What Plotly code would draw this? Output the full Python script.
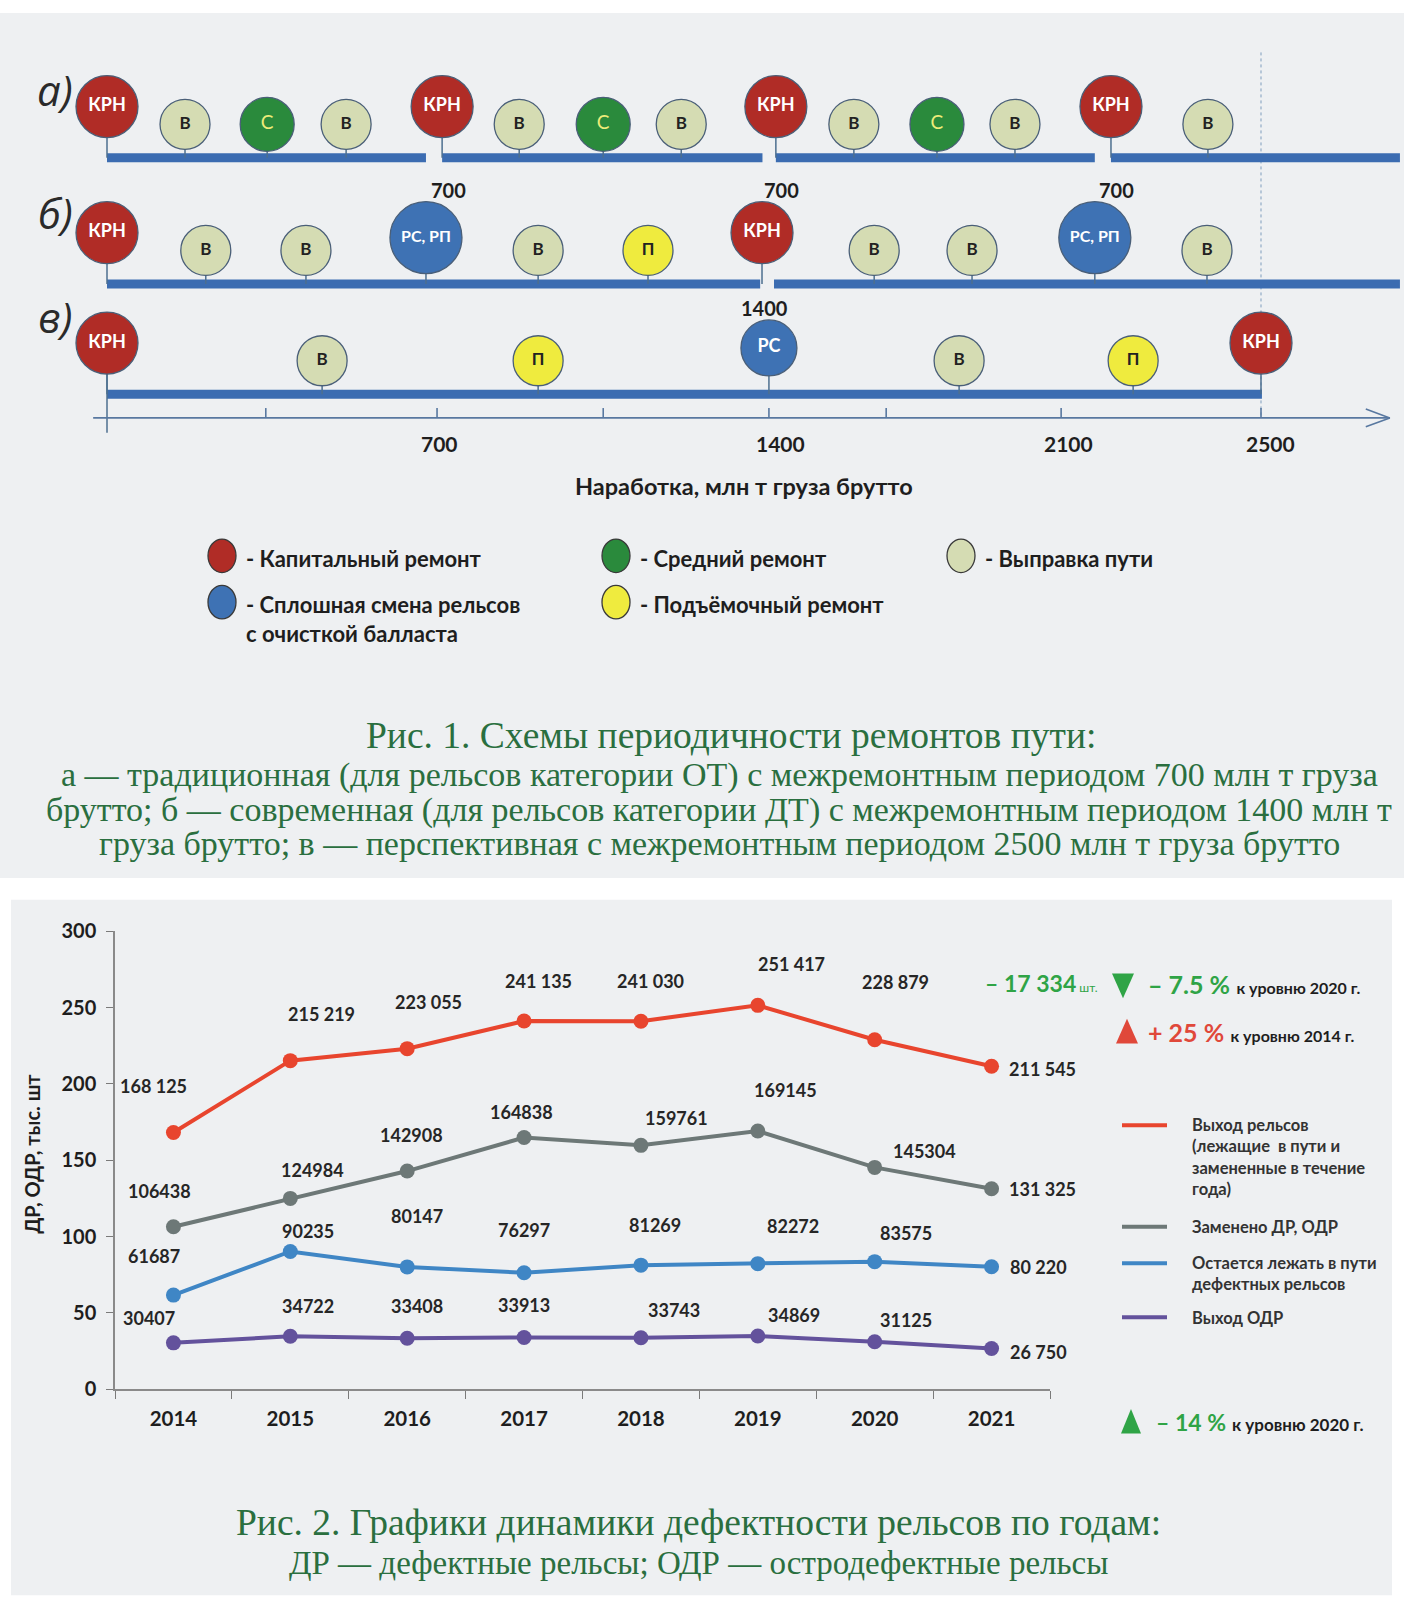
import plotly.graph_objects as go

W, H = 1418, 1618

# ===================== Рис. 1 — схемы периодичности ремонтов =====================
SCHEME_TICK_VALUES = [715, 1434, 2067, 2500]
SCHEME_TICK_LABELS = ["700", "1400", "2100", "2500"]
SCHEME_MINOR_TICK_VALUES = [344, 1075, 1688]
SCHEME_AXIS_END = 2779
SCHEME_AXIS_TITLE = "Наработка, млн т груза брутто"

ROW_NAMES = ["а)", "б)", "в)"]

ROW_A_POSITIONS = [0, 169, 347, 518, 726, 893, 1075, 1244, 1449, 1618, 1798, 1967, 2175, 2385]
ROW_A_REPAIRS = ["КРН", "В", "С", "В", "КРН", "В", "С", "В", "КРН", "В", "С", "В", "КРН", "В"]
ROW_A_SEG_START = [0, 726, 1449, 2175]
ROW_A_SEG_END = [691, 1420, 2140, 2801]
ROW_A_PERIOD_AT = [726, 1449, 2175]
ROW_A_PERIOD_LABELS = ["700", "700", "700"]

ROW_B_POSITIONS = [0, 214, 431, 691, 934, 1172, 1419, 1662, 1874, 2140, 2383]
ROW_B_REPAIRS = ["КРН", "В", "В", "РС, РП", "В", "П", "КРН", "В", "В", "РС, РП", "В"]
ROW_B_SEG_START = [0, 1445]
ROW_B_SEG_END = [1415, 2801]
ROW_B_PERIOD_AT = [1419]
ROW_B_PERIOD_LABELS = ["1400"]

ROW_C_POSITIONS = [0, 466, 934, 1434, 1846, 2223, 2500]
ROW_C_REPAIRS = ["КРН", "В", "П", "РС", "В", "П", "КРН"]
ROW_C_SEG_START = [0]
ROW_C_SEG_END = [2502]

LEGEND1_LABELS = ["- Капитальный ремонт", "- Средний ремонт", "- Выправка пути",
                  "- Сплошная смена рельсов<br>с очисткой балласта", "- Подъёмочный ремонт"]
LEGEND1_KEYS = ["КРН", "С", "В", "РС", "П"]

CAPTION1_TITLE = "Рис. 1. Схемы периодичности ремонтов пути:"
CAPTION1_LINES = [
    "а — традиционная (для рельсов категории ОТ) с межремонтным периодом 700 млн т груза",
    "брутто; б — современная (для рельсов категории ДТ) с межремонтным периодом 1400 млн т",
    "груза брутто; в — перспективная с межремонтным периодом 2500 млн т груза брутто",
]

# ===================== Рис. 2 — динамика дефектности =====================
YEARS = ["2014", "2015", "2016", "2017", "2018", "2019", "2020", "2021"]
RAIL_OUTPUT = [168.125, 215.219, 223.055, 241.135, 241.030, 251.417, 228.879, 211.545]
REPLACED = [106.438, 124.984, 142.908, 164.838, 159.761, 169.145, 145.304, 131.325]
REMAINING = [61.687, 90.235, 80.147, 76.297, 81.269, 82.272, 83.575, 80.220]
ODR_OUTPUT = [30.407, 34.722, 33.408, 33.913, 33.743, 34.869, 31.125, 26.750]

RAIL_OUTPUT_LABELS = ["168 125", "215 219", "223 055", "241 135", "241 030", "251 417", "228 879", "211 545"]
REPLACED_LABELS = ["106438", "124984", "142908", "164838", "159761", "169145", "145304", "131 325"]
REMAINING_LABELS = ["61687", "90235", "80147", "76297", "81269", "82272", "83575", "80 220"]
ODR_OUTPUT_LABELS = ["30407", "34722", "33408", "33913", "33743", "34869", "31125", "26 750"]

SERIES_NAMES = ["Выход рельсов<br>(лежащие  в пути и<br>замененные в течение<br>года)",
                "Заменено ДР, ОДР",
                "Остается лежать в пути<br>дефектных рельсов",
                "Выход ОДР"]
Y_TITLE = "ДР, ОДР, тыс. шт"
Y_TICKS = [0, 50, 100, 150, 200, 250, 300]

CAPTION2_TITLE = "Рис. 2. Графики динамики дефектности рельсов по годам:"
CAPTION2_LINE = "ДР — дефектные рельсы; ОДР — остродефектные рельсы"

# ===================== styles =====================
SANS = "Lato, 'Open Sans', sans-serif"
SERIF = "'Liberation Serif', 'DejaVu Serif', serif"
CAP_COLOR = "#2a6f3f"

FILL = {"КРН": "#b02c26", "В": "#d5dcb3", "С": "#2a8a3c", "РС, РП": "#3e72b4",
        "РС": "#3e72b4", "П": "#efeb3e"}
TXT = {"КРН": "white", "В": "#222222", "С": "#eeec7a", "РС, РП": "white", "РС": "white", "П": "#222222"}
SIZE = {"КРН": 62, "В": 50, "С": 54, "РС, РП": 72, "РС": 56, "П": 50}
LIFT = {"КРН": 52, "В": 34, "С": 34, "РС, РП": 47, "РС": 47, "П": 34}
TSIZE = {"КРН": 18, "В": 17, "С": 19, "РС, РП": 16, "РС": 18, "П": 17}
BOLD = {"КРН": True, "В": True, "С": False, "РС, РП": True, "РС": True, "П": True}
ROW_BAR_Y = [147, 275, 387]
AXIS_Y = 411
BAR_COLOR = "#3b6cb1"
STEM_COLOR = "#4d6f8f"
TICK_LABEL_SHIFT = [2, 12, 7, 9]

SERIES_COLORS = ["#e8452e", "#6d7877", "#3f86c5", "#63529c"]
LABEL_DX = [[-0.17, 0.27, 0.18, 0.12, 0.08, 0.29, 0.18, 0.44],
            [-0.12, 0.19, 0.04, -0.02, 0.30, 0.24, 0.43, 0.44],
            [-0.17, 0.15, 0.08, 0.00, 0.12, 0.30, 0.27, 0.40],
            [-0.21, 0.15, 0.08, 0.00, 0.28, 0.31, 0.27, 0.40]]
LABEL_DY = [[30, 30, 30, 26, 26, 27, 37, -1.5],
            [23, 18.5, 23, 16.3, 17.4, 26.6, 10.6, 0],
            [25, 13, 32.6, 27.8, 25.7, 24.5, 18.5, 0],
            [16, 19.6, 21, 21, 17.6, 13.8, 13.8, -2]]

PX_PER_UNIT = (1261 - 107) / 2500.0
X2_L, X2_R = 115, 1050
Y2_TOP, Y2_BOT = 932, 1397
CAT_W = (X2_R - X2_L) / len(YEARS)
UNIT_H = (Y2_BOT - Y2_TOP) / 300.0


def PX(x):
    return x / W


def PY(y):
    return 1 - y / H


def note(x, y, text, size, color="#1e1e1e", family=SANS, xanchor="center", yanchor="middle", **kw):
    d = dict(x=PX(x), y=PY(y), xref="paper", yref="paper", text=text, showarrow=False,
             xanchor=xanchor, yanchor=yanchor, font=dict(family=family, size=size, color=color))
    d.update(kw)
    return d


fig = go.Figure()
shapes = []
ann = []

# panel backgrounds (scanned page)
shapes.append(dict(type="rect", xref="paper", yref="paper", x0=PX(0), x1=PX(1404), y0=PY(878), y1=PY(0),
                   fillcolor="#eef0f2", line=dict(width=0), layer="below"))
shapes.append(dict(type="rect", xref="paper", yref="paper", x0=PX(11), x1=PX(1392), y0=PY(1606), y1=PY(900),
                   fillcolor="#eef0f2", line=dict(width=0), layer="below"))

# ---------- scheme ----------
rows = [
    (ROW_A_POSITIONS, ROW_A_REPAIRS, ROW_A_SEG_START, ROW_A_SEG_END),
    (ROW_B_POSITIONS, ROW_B_REPAIRS, ROW_B_SEG_START, ROW_B_SEG_END),
    (ROW_C_POSITIONS, ROW_C_REPAIRS, ROW_C_SEG_START, ROW_C_SEG_END),
]

fig.add_trace(go.Scatter(x=[2500, 2500], y=[40, AXIS_Y], mode="lines",
                         line=dict(color="#7f9dbd", width=1, dash="dot"), hoverinfo="skip", showlegend=False))

for (pos, rep, s0, s1), by in zip(rows, ROW_BAR_Y):
    bx, byy = [], []
    for a, b in zip(s0, s1):
        bx += [a, b, None]
        byy += [by, by, None]
    fig.add_trace(go.Scatter(x=bx, y=byy, mode="lines", line=dict(color=BAR_COLOR, width=9),
                             hoverinfo="skip", showlegend=False))
    sx, sy = [], []
    for p, r in zip(pos, rep):
        sx += [p, p, None]
        sy += [by - LIFT[r], by, None]
    fig.add_trace(go.Scatter(x=sx, y=sy, mode="lines", line=dict(color=STEM_COLOR, width=1.5),
                             hoverinfo="skip", showlegend=False))

fig.add_trace(go.Scatter(x=[0, 0], y=[ROW_BAR_Y[2] - LIFT["КРН"], AXIS_Y + 15], mode="lines",
                         line=dict(color=STEM_COLOR, width=1.5), hoverinfo="skip", showlegend=False))

fig.add_trace(go.Scatter(x=[-30, SCHEME_AXIS_END], y=[AXIS_Y, AXIS_Y], mode="lines",
                         line=dict(color="#5878a0", width=1.6), hoverinfo="skip", showlegend=False))
tx, ty = [], []
for v in SCHEME_TICK_VALUES + SCHEME_MINOR_TICK_VALUES:
    tx += [v, v, None]
    ty += [AXIS_Y - 10, AXIS_Y, None]
fig.add_trace(go.Scatter(x=tx, y=ty, mode="lines", line=dict(color="#5878a0", width=1.6),
                         hoverinfo="skip", showlegend=False))
arr = 12 / PX_PER_UNIT
fig.add_trace(go.Scatter(x=[SCHEME_AXIS_END - 2 * arr, SCHEME_AXIS_END, SCHEME_AXIS_END - 2 * arr],
                         y=[AXIS_Y - 9, AXIS_Y, AXIS_Y + 9], mode="lines",
                         line=dict(color="#5878a0", width=1.6), hoverinfo="skip", showlegend=False))

for (pos, rep, s0, s1), by in zip(rows, ROW_BAR_Y):
    texts = [("<b>%s</b>" % r) if BOLD[r] else r for r in rep]
    fig.add_trace(go.Scatter(
        x=pos, y=[by - LIFT[r] for r in rep], mode="markers+text",
        marker=dict(size=[SIZE[r] for r in rep], color=[FILL[r] for r in rep],
                    line=dict(color="#4a5f78", width=1.3), opacity=1),
        text=texts, textposition="middle center",
        textfont=dict(family=SANS, size=[TSIZE[r] for r in rep], color=[TXT[r] for r in rep]),
        hoverinfo="skip", showlegend=False))

for v, lab in zip(ROW_A_PERIOD_AT, ROW_A_PERIOD_LABELS):
    ann.append(dict(x=v, y=ROW_BAR_Y[0] + 33, xref="x", yref="y", text="<b>%s</b>" % lab, showarrow=False,
                    xshift=6, font=dict(family=SANS, size=20, color="#1e1e1e")))
for v, lab in zip(ROW_B_PERIOD_AT, ROW_B_PERIOD_LABELS):
    ann.append(dict(x=v, y=ROW_BAR_Y[1] + 24, xref="x", yref="y", text="<b>%s</b>" % lab, showarrow=False,
                    xshift=2, font=dict(family=SANS, size=20, color="#1e1e1e")))

for v, lab, sh in zip(SCHEME_TICK_VALUES, SCHEME_TICK_LABELS, TICK_LABEL_SHIFT):
    ann.append(dict(x=v, y=AXIS_Y + 26, xref="x", yref="y", text="<b>%s</b>" % lab, showarrow=False,
                    xshift=sh, font=dict(family=SANS, size=21, color="#1e1e1e")))

ann.append(note(744, 480, "<b>%s</b>" % SCHEME_AXIS_TITLE, 23.5))

for name, yy in zip(ROW_NAMES, [78, 203, 308]):
    ann.append(note(55, yy, "<i>%s</i>" % name, 42, color="#2a2a2a", family="'Open Sans', sans-serif"))

# legend of Fig. 1
leg1_pos = [(222, 551), (616, 551), (961, 551), (222, 598), (616, 598)]
for (cx, cy), key, lab in zip(leg1_pos, LEGEND1_KEYS, LEGEND1_LABELS):
    shapes.append(dict(type="circle", xref="paper", yref="paper", x0=PX(cx - 14), x1=PX(cx + 14),
                       y0=PY(cy + 17), y1=PY(cy - 17), fillcolor=FILL[key],
                       line=dict(color="#3a3a3a", width=1.3)))
    ann.append(note(cx + 22, cy - 13, "<b>%s</b>" % lab, 22, xanchor="left", yanchor="top", align="left"))

# caption 1
ann.append(note(731, 733, CAPTION1_TITLE, 37.5, color=CAP_COLOR, family=SERIF))
for line, yy in zip(CAPTION1_LINES, [773, 809, 843]):
    ann.append(note(719, yy, line, 34, color=CAP_COLOR, family=SERIF))

# ---------- Fig. 2 line chart ----------
series = [RAIL_OUTPUT, REPLACED, REMAINING, ODR_OUTPUT]
labels = [RAIL_OUTPUT_LABELS, REPLACED_LABELS, REMAINING_LABELS, ODR_OUTPUT_LABELS]
for vals, col, name in zip(series, SERIES_COLORS, SERIES_NAMES):
    fig.add_trace(go.Scatter(x=YEARS, y=vals, mode="lines+markers", name=name,
                             line=dict(color=col, width=4), marker=dict(size=15, color=col),
                             xaxis="x2", yaxis="y2", showlegend=False, cliponaxis=False))

for vals, labs, dxs, dys in zip(series, labels, LABEL_DX, LABEL_DY):
    for i, (v, lab, dx, dy) in enumerate(zip(vals, labs, dxs, dys)):
        ann.append(dict(x=i, y=v, xref="x2", yref="y2", text="<b>%s</b>" % lab, showarrow=False,
                        xanchor="center", yanchor="middle",
                        xshift=dx * CAT_W, yshift=dy * UNIT_H,
                        font=dict(family=SANS, size=18, color="#262626")))

ann.append(note(32, 1158, "<b>%s</b>" % Y_TITLE, 20, textangle=-90))

# legend of Fig. 2
leg2_y = [1129, 1232, 1269, 1324]
for col, yy, name in zip(SERIES_COLORS, leg2_y, SERIES_NAMES):
    shapes.append(dict(type="line", xref="paper", yref="paper", x0=PX(1122), x1=PX(1167),
                       y0=PY(yy), y1=PY(yy), line=dict(color=col, width=4)))
    ann.append(note(1190, yy - 12, "<b>%s</b>" % name, 16.5, color="#333333", xanchor="left",
                    yanchor="top", align="left"))

GREEN = "#2fa446"
RED = "#e0483a"
ann.append(note(1100, 985, "<b>– 17 334</b><span style='font-size:12px'> шт.</span>", 23, color=GREEN,
                xanchor="right"))
shapes.append(dict(type="path", xref="paper", yref="paper",
                   path="M %f,%f L %f,%f L %f,%f Z" % (PX(1112), PY(975), PX(1134), PY(975), PX(1123), PY(1000)),
                   fillcolor=GREEN, line=dict(width=0)))
ann.append(note(1146, 986, "<b>– 7.5 %</b> <span style='font-size:16px;color:#1e1e1e'><b>к уровню 2020 г.</b></span>",
                25, color=GREEN, xanchor="left"))
shapes.append(dict(type="path", xref="paper", yref="paper",
                   path="M %f,%f L %f,%f L %f,%f Z" % (PX(1116), PY(1046), PX(1138), PY(1046), PX(1127), PY(1021)),
                   fillcolor=RED, line=dict(width=0)))
ann.append(note(1146, 1034, "<b>+ 25 %</b> <span style='font-size:16px;color:#1e1e1e'><b>к уровню 2014 г.</b></span>",
                25, color=RED, xanchor="left"))
shapes.append(dict(type="path", xref="paper", yref="paper",
                   path="M %f,%f L %f,%f L %f,%f Z" % (PX(1121), PY(1442), PX(1141), PY(1442), PX(1131), PY(1417)),
                   fillcolor=GREEN, line=dict(width=0)))
ann.append(note(1154, 1430, "<b>– 14 %</b> <span style='font-size:17px;color:#1e1e1e'><b>к уровню 2020 г.</b></span>",
                23, color=GREEN, xanchor="left"))

# caption 2
ann.append(note(698, 1532, CAPTION2_TITLE, 37.5, color=CAP_COLOR, family=SERIF))
ann.append(note(698, 1573, CAPTION2_LINE, 33, color=CAP_COLOR, family=SERIF))

fig.update_layout(
    width=W, height=H, margin=dict(l=0, r=0, t=0, b=0),
    paper_bgcolor="white", plot_bgcolor="rgba(0,0,0,0)",
    showlegend=False,
    xaxis=dict(domain=[0, 1], range=[-107 / PX_PER_UNIT, (W - 107) / PX_PER_UNIT], visible=False,
               fixedrange=True),
    yaxis=dict(domain=[0, 1], range=[H, 0], visible=False, fixedrange=True),
    xaxis2=dict(domain=[PX(X2_L), PX(X2_R)], anchor="y2", type="category", range=[-0.5, len(YEARS) - 0.5],
                tickson="boundaries", ticks="outside", ticklen=8, tickcolor="#7a7a7a", tickwidth=1.3,
                showline=True, linecolor="#8a8a8a", linewidth=2, showgrid=False, zeroline=False,
                tickfont=dict(family=SANS, size=20.5, color="#1e1e1e", weight="bold"), ticklabelstandoff=10),
    yaxis2=dict(domain=[PY(Y2_BOT), PY(Y2_TOP)], anchor="x2", range=[0, 300], tickvals=Y_TICKS,
                ticks="outside", ticklen=7, tickcolor="#7a7a7a", showline=True, linecolor="#8a8a8a",
                linewidth=1.5, showgrid=False, zeroline=False,
                tickfont=dict(family=SANS, size=20, color="#1e1e1e", weight="bold"), ticklabelstandoff=6),
    shapes=shapes, annotations=ann,
)

fig.write_html("out.html", config={"displayModeBar": False},
               post_script="document.body.style.margin='0px';")
